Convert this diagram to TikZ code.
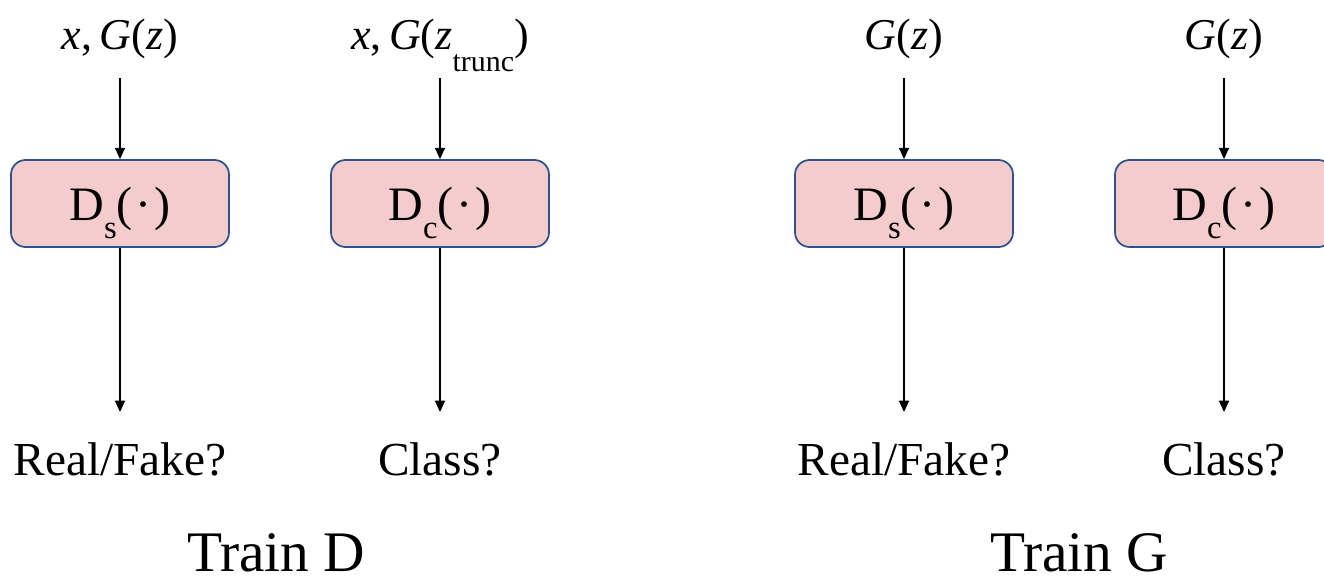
\documentclass[tikz,border=0pt]{standalone}
\usepackage{fontspec}
\setmainfont{Liberation Serif}
\usepackage{tikz}
\usetikzlibrary{arrows.meta,positioning}
\definecolor{dfill}{HTML}{F4CCCC}
\definecolor{dline}{HTML}{2F528F}
\newcommand{\lowsub}[2]{\raisebox{-#1em}{\scalebox{0.68}{#2}}}
\newcommand{\disc}[1]{D\lowsub{0.36}{#1}(\kern0.06em·\kern0.06em)}

\begin{document}
\begin{tikzpicture}[x=0.75pt,y=-0.75pt,>={Triangle[length=8.5pt,width=7.5pt]},
  dbox/.style={draw=dline,line width=1.3pt,rounded corners=11pt,fill=dfill,
    minimum width=163.5pt,minimum height=65.25pt,text height=30pt,text depth=3.75pt,
    font=\fontsize{36}{40}\selectfont},
  inp/.style={inner sep=0pt,text depth=21pt,font=\fontsize{33}{38}\selectfont},
  outp/.style={inner sep=0pt,text height=47pt,anchor=base,font=\fontsize{35.5}{40}\selectfont},
  phase/.style={inner sep=0pt,anchor=base,font=\fontsize{43}{48}\selectfont},
  flow/.style={->,line width=1pt}]
\useasboundingbox (0,0) rectangle (1324,584);
% discriminator boxes
\node[dbox](ds1) at (120,203.5){\disc{s}};
\node[dbox](dc1) at (440,203.5){\disc{c}};
\node[dbox](ds2) at (904,203.5){\disc{s}};
\node[dbox](dc2) at (1224,203.5){\disc{c}};
% inputs
\node[inp,anchor=base](in1) at (120,50){\textit{x},\,\textit{G}(\textit{z})};
\node[inp,anchor=base](in2) at (440,50){\textit{x},\,\textit{G}(\textit{z}\lowsub{0.5}{trunc})};
\node[inp,anchor=base](in3) at (904,50){\textit{G}(\textit{z})};
\node[inp,anchor=base](in4) at (1224,50){\textit{G}(\textit{z})};
% outputs
\node[outp](out1) at (120,475){Real/Fake?};
\node[outp](out2) at (440,475){Class?};
\node[outp](out3) at (904,475){Real/Fake?};
\node[outp](out4) at (1224,475){Class?};
\foreach \i/\b in {1/ds1,2/dc1,3/ds2,4/dc2}{
  \draw[flow] (in\i) -- (\b);
  \draw[flow] (\b) -- (out\i);
}
\node[phase](trd) at (276,571){Train D};
\node[phase](trg) at (1079,571){Train G};
\end{tikzpicture}
\end{document}
